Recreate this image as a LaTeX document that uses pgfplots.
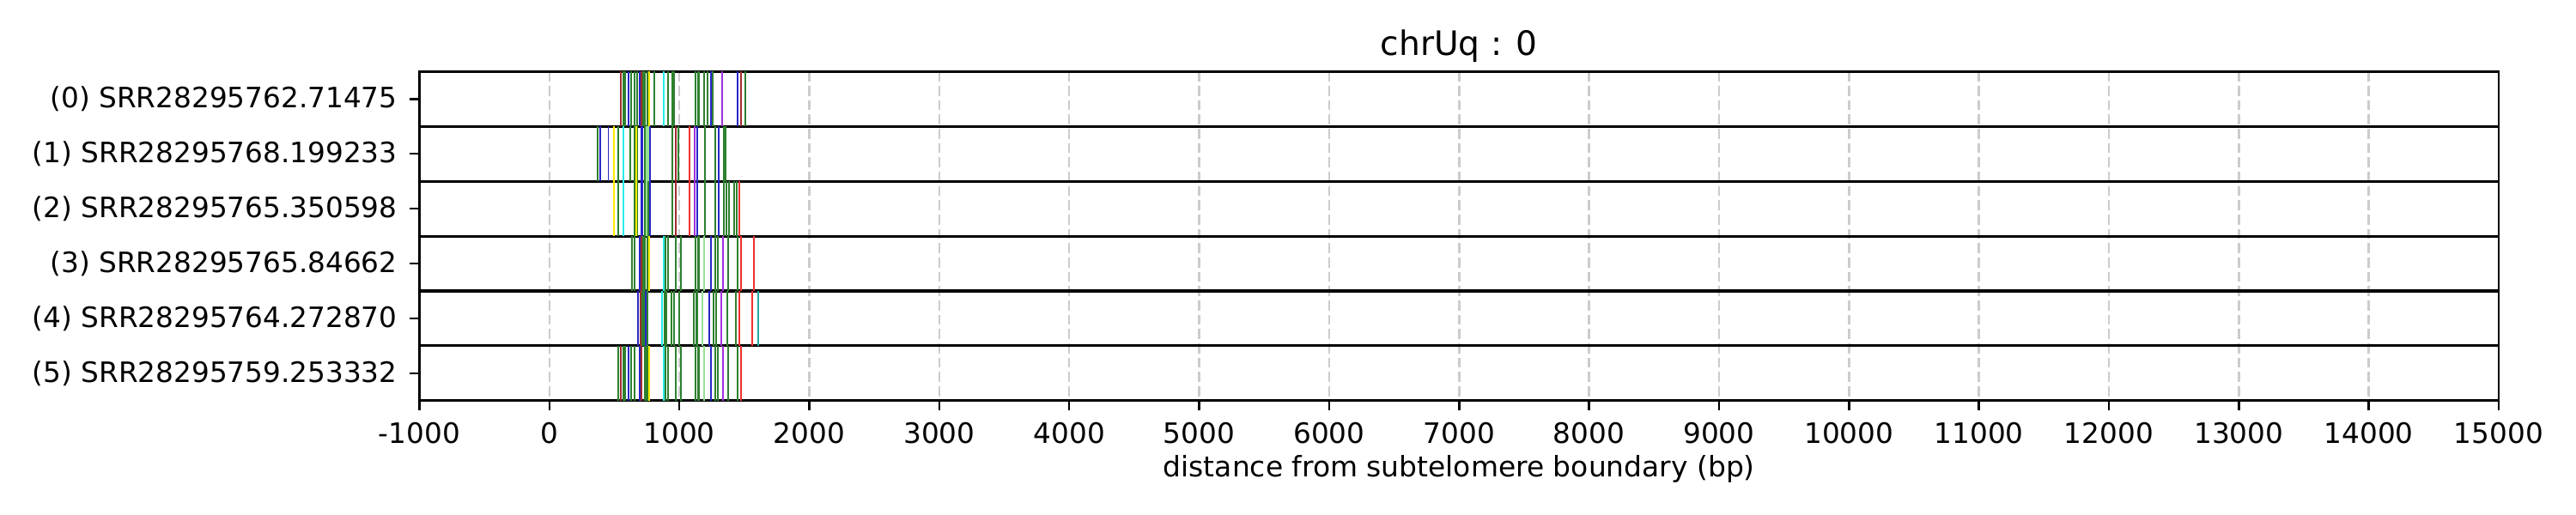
\documentclass[border=0pt]{standalone}
\usepackage{fontspec}
\setmainfont{DejaVu Sans}
\usepackage{pgfplots}
\pgfplotsset{compat=1.18}
\usepackage{pgfplotstable}
\definecolor{cgreen}{RGB}{46,128,46}
\definecolor{cblue}{RGB}{40,40,200}
\definecolor{cbrown}{RGB}{160,45,45}
\definecolor{cyellow}{RGB}{255,235,0}
\definecolor{ccyan}{RGB}{40,235,235}
\definecolor{clgreen}{RGB}{150,225,150}
\definecolor{cred}{RGB}{240,50,50}
\definecolor{cpurple}{RGB}{160,50,220}
\definecolor{cteal}{RGB}{32,170,160}

\pgfplotstableread{
x r
567 0
580 0
631 0
653 0
673 0
719 0
737 0
752 0
805 0
810 0
914 0
944 0
951 0
958 0
1126 0
1143 0
1150 0
1192 0
1219 0
1256 0
1508 0
371 1
527 1
623 1
656 1
678 1
733 1
944 1
993 1
1196 1
1278 1
1342 1
1355 1
527 2
656 2
678 2
733 2
762 2
944 2
1196 2
1278 2
1345 2
1363 2
1383 2
1418 2
1425 2
1444 2
633 3
653 3
719 3
735 3
755 3
891 3
911 3
971 3
1011 3
1126 3
1143 3
1150 3
1278 3
1298 3
1375 3
1450 3
713 4
728 4
757 4
885 4
898 4
938 4
958 4
998 4
1113 4
1130 4
1135 4
1262 4
1282 4
1366 4
1434 4
527 5
567 5
580 5
631 5
653 5
737 5
740 5
755 5
891 5
911 5
971 5
1011 5
1126 5
1143 5
1150 5
1278 5
1298 5
1375 5
1450 5
}\tgreen

\pgfplotstableread{
x r
607 0
695 0
1243 0
1448 0
388 1
454 1
709 1
712 1
772 1
1137 1
1302 1
709 2
712 2
772 2
1137 2
1302 2
695 3
1243 3
682 4
739 4
1229 4
607 5
695 5
1243 5
}\tblue

\pgfplotstableread{
x r
550 0
709 0
1474 0
970 1
976 1
970 2
976 2
709 3
702 4
547 5
709 5
}\tbrown

\pgfplotstableread{
x r
768 0
494 1
669 1
494 2
669 2
768 3
768 5
}\tyellow

\pgfplotstableread{
x r
878 0
567 1
567 2
878 3
868 4
878 5
}\tcyan

\pgfplotstableread{
x r
748 1
762 1
748 2
1190 3
1179 4
1190 5
}\tlgreen

\pgfplotstableread{
x r
1077 1
1077 2
1460 2
1472 3
1574 3
1459 4
1560 4
1472 5
}\tred

\pgfplotstableread{
x r
1329 0
1117 1
1117 2
1335 3
1322 4
1335 5
}\tpurple

\pgfplotstableread{
x r
1605 4
1608 4
}\tteal

\begin{document}
\begin{tikzpicture}
\useasboundingbox (-117.24bp,-31.97bp) rectangle (602.76bp,112.03bp);
\begin{axis}[
  at={(0,0)}, anchor=south west,
  scale only axis, width=581.16bp, height=92.02bp,
  xmin=-1000, xmax=15000, ymin=0, ymax=6, y dir=reverse,
  scaled x ticks=false,
  xtick={-1000,0,1000,2000,3000,4000,5000,6000,7000,8000,9000,10000,11000,12000,13000,14000,15000},
  xticklabels={-1000,0,1000,2000,3000,4000,5000,6000,7000,8000,9000,10000,11000,12000,13000,14000,15000},
  ytick={0.5,1.5,2.5,3.5,4.5,5.5},
  yticklabels={(0) SRR28295762.71475,(1) SRR28295768.199233,(2) SRR28295765.350598,(3) SRR28295765.84662,(4) SRR28295764.272870,(5) SRR28295759.253332},
  xtick pos=bottom, ytick pos=left,
  tick align=outside, major tick length=2.7bp,
  tick style={black, line width=0.6bp},
  xmajorgrids,
  x grid style={gray!40, dash pattern=on 2.8bp off 1.2bp, line width=0.6bp},
  extra y ticks={1,2,3,4,5},
  extra y tick labels={},
  extra y tick style={ymajorgrids=true, major tick length=0pt, major grid style={black, line width=0.75bp}},
  axis line style={black, line width=0.7bp},
  ticklabel style={font=\fontsize{7.85bp}{9bp}\selectfont},
  xlabel={distance from subtelomere boundary (bp)},
  xlabel style={font=\fontsize{7.9bp}{9bp}\selectfont, at={(axis description cs:0.5,0)}, anchor=base, yshift=-21.3bp},
]
\addplot[quiver={u=0,v=1}, draw=cgreen, line width=0.45bp] table[x=x,y=r] {\tgreen};
\addplot[quiver={u=0,v=1}, draw=cblue, line width=0.45bp] table[x=x,y=r] {\tblue};
\addplot[quiver={u=0,v=1}, draw=cbrown, line width=0.45bp] table[x=x,y=r] {\tbrown};
\addplot[quiver={u=0,v=1}, draw=cyellow, line width=0.45bp] table[x=x,y=r] {\tyellow};
\addplot[quiver={u=0,v=1}, draw=ccyan, line width=0.45bp] table[x=x,y=r] {\tcyan};
\addplot[quiver={u=0,v=1}, draw=clgreen, line width=0.45bp] table[x=x,y=r] {\tlgreen};
\addplot[quiver={u=0,v=1}, draw=cred, line width=0.45bp] table[x=x,y=r] {\tred};
\addplot[quiver={u=0,v=1}, draw=cpurple, line width=0.45bp] table[x=x,y=r] {\tpurple};
\addplot[quiver={u=0,v=1}, draw=cteal, line width=0.45bp] table[x=x,y=r] {\tteal};
\end{axis}
\node[font=\fontsize{9.4bp}{11bp}\selectfont] at (290.58bp,99.17bp) {chrUq : 0};
\end{tikzpicture}
\end{document}
